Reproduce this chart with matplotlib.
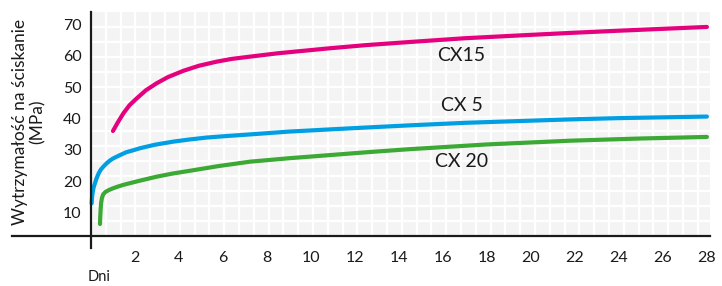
import matplotlib
matplotlib.use('Agg')
import numpy as np
import matplotlib.pyplot as plt

### DATA ###
cx15_days = [1.0, 1.2, 1.47, 1.75, 2.08, 2.5, 2.98, 3.5, 4.2, 4.9, 5.7, 6.4, 7.2,
             8.5, 10.86, 12.5, 14.5, 17.0, 19.5, 21.8, 24.0, 28.0]
cx15_mpa = [36.5, 39.0, 42.1, 44.7, 46.9, 49.5, 51.7, 53.7, 55.7, 57.3, 58.6, 59.5, 60.2,
            61.3, 62.9, 63.9, 64.9, 66.1, 67.0, 67.8, 68.5, 69.7]

cx5_days = [0.03, 0.05, 0.08, 0.12, 0.18, 0.26, 0.35, 0.45, 0.56, 0.7, 0.85, 1.0, 1.17,
            1.35, 1.6, 1.9, 2.23, 2.9, 3.74, 4.5, 5.26, 6.2, 7.23, 9.0, 10.86, 12.5,
            14.5, 17.0, 21.8, 24.0, 28.0]
cx5_mpa = [13.4, 15.5, 17.0, 18.5, 19.8, 21.5, 23.0, 24.2, 25.1, 26.1, 27.0, 27.7, 28.3,
           28.9, 29.7, 30.3, 31.0, 32.1, 33.1, 33.8, 34.4, 34.9, 35.4, 36.3, 37.0, 37.6,
           38.3, 39.1, 40.2, 40.6, 41.1]

cx20_days = [0.41, 0.42, 0.44, 0.46, 0.5, 0.56, 0.65, 0.8, 1.0, 1.2, 1.47, 2.2, 2.98,
             3.7, 4.5, 5.8, 7.23, 9.0, 10.86, 12.7, 14.5, 18.0, 21.8, 25.0, 28.0]
cx20_mpa = [6.8, 9.0, 11.5, 13.5, 15.2, 16.3, 17.0, 17.6, 18.2, 18.7, 19.3, 20.6, 21.9,
            22.9, 23.8, 25.3, 26.7, 27.8, 28.8, 29.8, 30.7, 32.2, 33.4, 34.1, 34.6]

x_ticks = list(range(2, 29, 2))
y_ticks = [10, 20, 30, 40, 50, 60, 70]

labels = ['CX15', 'CX 5', 'CX 20']
label_pos = [(16.85, 60.7), (16.85, 44.5), (16.85, 26.7)]
colors = ['#e5007d', '#009fe3', '#3ca935']

### FIGURE ###
plt.rcParams['font.family'] = ['Lato', 'DejaVu Sans']
fig = plt.figure(figsize=(7.22, 2.86), dpi=100)
ax = fig.add_axes([12 / 722, 50 / 286, 698 / 722, 224 / 286])

x_lo, x_hi = -3.59, 28.14
y_lo, y_hi = 2.98, 74.47
ax.set_xlim(x_lo, x_hi)
ax.set_ylim(y_lo, y_hi)

# gray plot area with white square grid
ax.axvspan(0, x_hi, color='#f4f4f4', zorder=0, lw=0)
dx = 14.8 / 22
dy = 14.93 / 3.133
gx = np.arange(dx, x_hi, dx)
gy = y_hi - np.arange(dy, y_hi - y_lo, dy)
ax.vlines(gx, y_lo, y_hi, color='white', lw=1.6, zorder=1)
ax.hlines(gy, 0, x_hi, color='white', lw=1.6, zorder=1)

for d, v, c in [(cx15_days, cx15_mpa, colors[0]),
                (cx5_days, cx5_mpa, colors[1]),
                (cx20_days, cx20_mpa, colors[2])]:
    ax.plot(d, v, color=c, lw=3, solid_capstyle='round', solid_joinstyle='round', zorder=3)

for lab, (lx, ly) in zip(labels, label_pos):
    ax.text(lx, ly, lab, fontsize=14, ha='center', va='center', color='#1a1a1a', zorder=4)

# axes lines
for s in ['top', 'right', 'left']:
    ax.spines[s].set_visible(False)
ax.spines['bottom'].set_linewidth(1.6)
ax.spines['bottom'].set_color('#1a1a1a')
ax.plot([0, 0], [y_hi, y_lo - 12 / 3.133], color='#1a1a1a', lw=1.6, clip_on=False, zorder=5)

ax.set_xticks(x_ticks)
ax.set_xticklabels([str(t) for t in x_ticks])
ax.tick_params(axis='x', length=0, pad=11, labelsize=11.5, labelcolor='#1a1a1a')
ax.set_yticks([])
for t in y_ticks:
    ax.text(-0.42, t, str(t), ha='right', va='center', fontsize=11.5, color='#1a1a1a')

fig.text(29 / 722, 1 - 122 / 286, 'Wytrzymałość na ściskanie\n(MPa)', rotation=90,
         ha='center', va='center', fontsize=12.5, color='#1a1a1a', linespacing=1.1)
fig.text(88 / 722, 1 - 270 / 286, 'Dni', ha='left', va='top', fontsize=10.5, color='#1a1a1a')

plt.savefig('out.png', dpi=100)
